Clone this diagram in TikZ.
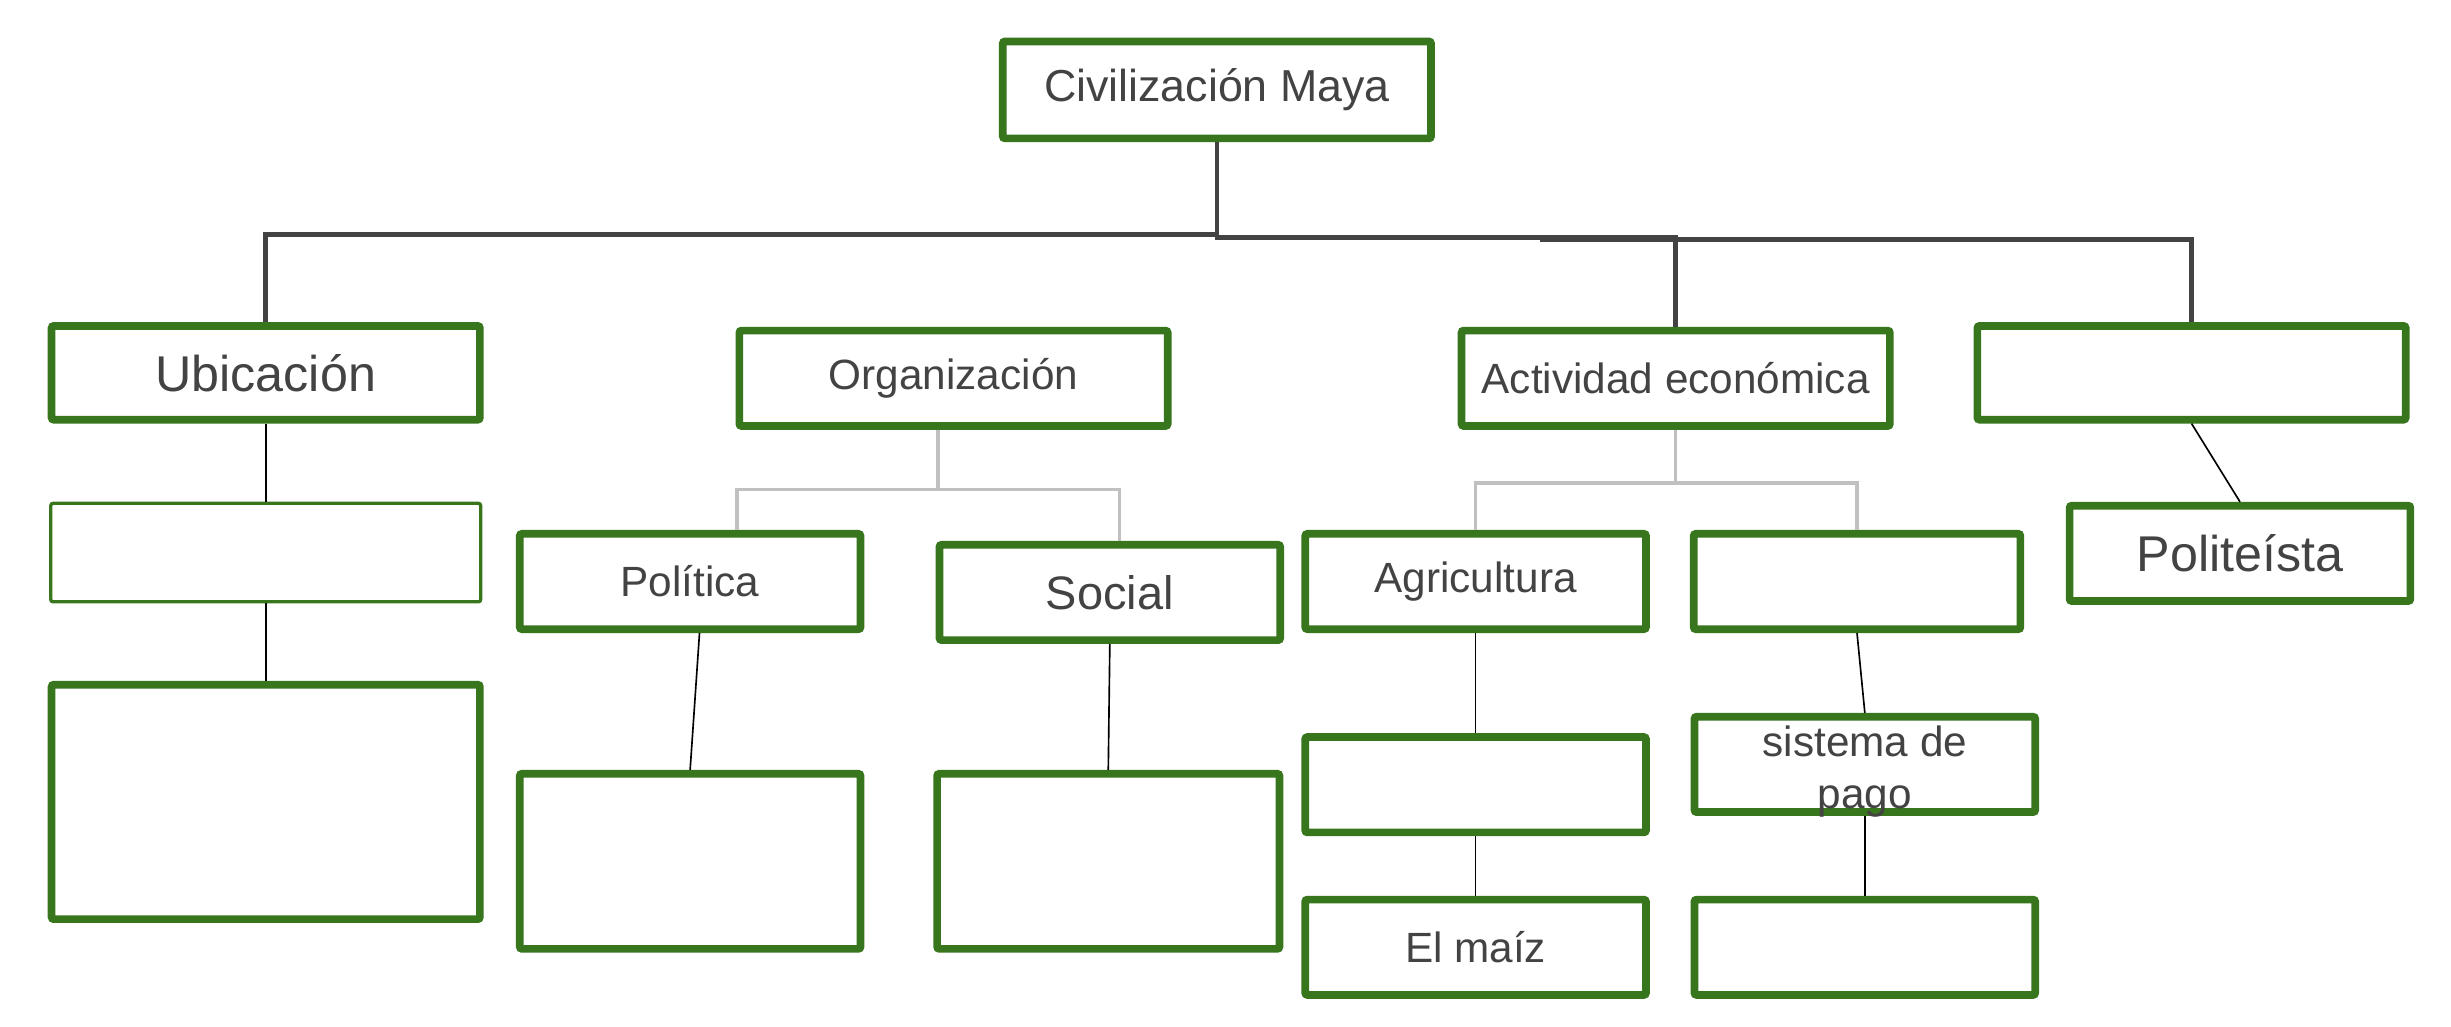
\documentclass[tikz,border=0pt]{standalone}
\usepackage{fontspec}
\setmainfont{Liberation Sans}
\usetikzlibrary{calc}
\definecolor{mayagreen}{HTML}{38761D}
\definecolor{textgray}{HTML}{434343}
\definecolor{forkgray}{HTML}{C0C0C0}

\begin{document}
\begin{tikzpicture}[x=0.02cm, y=-0.02cm,
    box/.style={draw=mayagreen, line width=2.8pt, rounded corners=0.8pt, fill=white, text=textgray, inner sep=0pt, align=center, font=\fontsize{15.4}{19}\selectfont},
    thinbox/.style={box, line width=1.2pt},
    boxsize/.style 2 args={minimum width=#1*0.02cm, minimum height=#2*0.02cm},
    bigtext/.style={font=\fontsize{18.3}{22}\selectfont},
    rootlink/.style={draw=textgray, line width=1.7pt},
    forklink/.style={draw=forkgray, line width=1.2pt},
    leaflink/.style={draw=black, line width=0.6pt}]
  \useasboundingbox (0,0) rectangle (1568,657);

  \node[box, boxsize={274}{62}, font=\fontsize{16.3}{20}\selectfont] (maya) at (778.5,57.5) {Civilización Maya};

  \node[box, boxsize={274}{60}, bigtext] (ubic) at (170,238.5) {Ubicación};
  \node[box, boxsize={274}{61}] (orga) at (610,242) {Organización};
  \node[box, boxsize={274}{61}] (acti) at (1072,242) {Actividad económica};
  \node[box, boxsize={274}{60}] (relig) at (1402,238.5) {};

  \node[thinbox, boxsize={275}{63}] (ubicA) at (170,353.5) {};
  \node[box, boxsize={274}{150}] (ubicB) at (170,513) {};

  \node[box, boxsize={218}{61}] (poli) at (441.5,372) {Política};
  \node[box, boxsize={218}{61}, font=\fontsize{17.1}{21}\selectfont] (soci) at (710,379) {Social};
  \node[box, boxsize={218}{112}] (poliA) at (441.5,551) {};
  \node[box, boxsize={219}{112}] (sociA) at (709,551) {};

  \node[box, boxsize={218}{61}] (agri) at (944,372) {Agricultura};
  \node[box, boxsize={209}{61}] (comer) at (1188,372) {};
  \node[box, boxsize={218}{61}] (agriA) at (944,502) {};
  \node[box, boxsize={218}{61}] (pago) at (1193,489) {\raisebox{3pt}[0pt][0pt]{\begin{tabular}[t]{@{}c@{}}sistema de\\pago\end{tabular}}};
  \node[box, boxsize={218}{61}] (maiz) at (944,606) {El maíz};
  \node[box, boxsize={218}{61}] (pagoA) at (1193,606) {};

  \node[box, boxsize={218}{61}, bigtext] (polit) at (1433,354) {Politeísta};

  \draw[rootlink] (maya.south) -- ++(0,59) coordinate (split);
  \draw[rootlink] (split) -| (ubic.north);
  \draw[rootlink] (split) -- ++(0,2) -| (acti.north);
  \coordinate (splitR) at (985,153);
  \draw[rootlink] (splitR) -| (relig.north);

  \draw[forklink] ($(orga.south)+(-10,0)$) -- ++(0,38) coordinate (orgsplit);
  \draw[forklink] ($(poli.north)+(30,0)$) |- (orgsplit) -| ($(soci.north)+(6,0)$);
  \draw[forklink] (acti.south) -- ++(0,34) coordinate (actsplit);
  \draw[forklink] (agri.north) |- (actsplit) -| (comer.north);

  \draw[leaflink] (ubic.south) -- (ubicA.north);
  \draw[leaflink] (ubicA.south) -- (ubicB.north);
  \draw[leaflink] ($(poli.south)+(6,0)$) -- (poliA.north);
  \draw[leaflink] (soci.south) -- (sociA.north);
  \draw[leaflink] (agri.south) -- (agriA.north);
  \draw[leaflink] (agriA.south) -- (maiz.north);
  \draw[leaflink] (comer.south) -- (pago.north);
  \draw[leaflink] (pago.south) -- (pagoA.north);
  \draw[leaflink] (relig.south) -- (polit.north);
\end{tikzpicture}
\end{document}
